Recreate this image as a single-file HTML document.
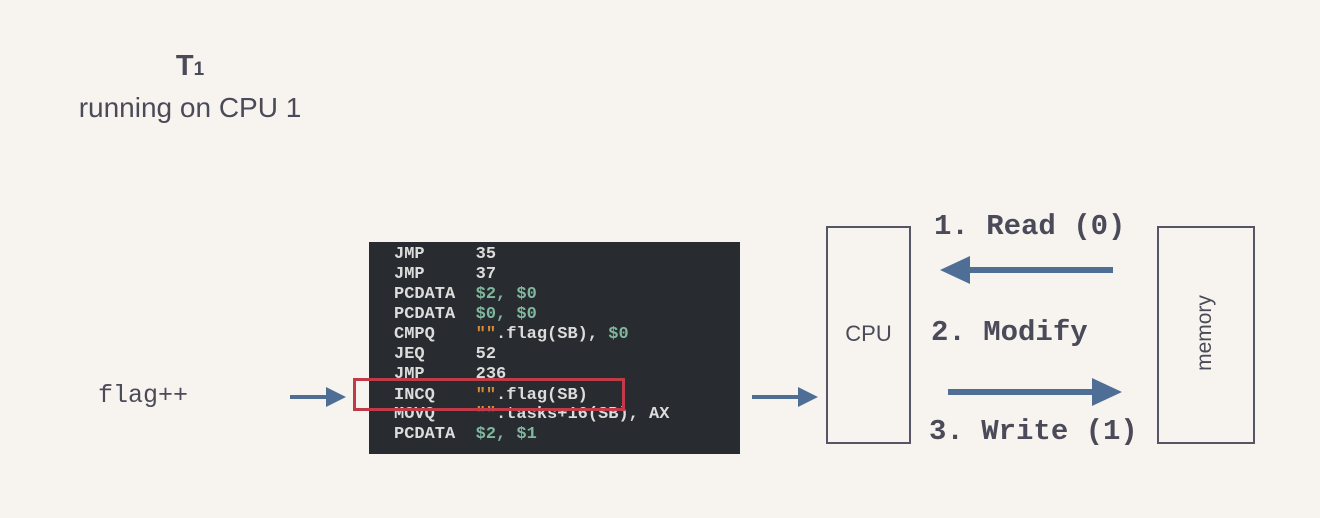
<!DOCTYPE html>
<html><head><style>
body{margin:0;width:1320px;height:518px;background:#f7f4f0;position:relative;overflow:hidden;font-family:"Liberation Sans",sans-serif;color:#4a4a58}
.a{position:absolute}
.code{left:369px;top:242px;width:371px;height:212px;background:#282b2f;overflow:hidden}
.code div{position:absolute;left:25px;font:bold 17px/20px "Liberation Mono",monospace;color:#dcdcdc;white-space:pre}
.g{color:#7fb89e}.o{color:#d98a3a}
.lbl{font:bold 29px "Liberation Mono",monospace;color:#4a4a58;white-space:pre}
</style></head><body>
<div class="a" style="left:60px;top:50px;width:260px;text-align:center;font-size:29px;font-weight:bold">T<span style="font-size:19px">1</span></div>
<div class="a" style="left:40px;top:92px;width:300px;text-align:center;font-size:28px">running on CPU 1</div>
<div class="a" style="left:98px;top:381px;font:25px 'Liberation Mono',monospace">flag++</div>
<div class="a code">
<div style="top:3px">JMP     35</div>
<div style="top:23px">JMP     37</div>
<div style="top:43px">PCDATA  <span class="g">$2, $0</span></div>
<div style="top:63px">PCDATA  <span class="g">$0, $0</span></div>
<div style="top:83px">CMPQ    <span class="o">""</span>.flag(SB), <span class="g">$0</span></div>
<div style="top:103px">JEQ     52</div>
<div style="top:123px">JMP     236</div>
<div style="top:144px">INCQ    <span class="o">""</span>.flag(SB)</div>
<div style="top:163px">MOVQ    <span class="o">""</span>.tasks+16(SB), AX</div>
<div style="top:183px">PCDATA  <span class="g">$2, $1</span></div>
</div>
<div class="a" style="left:353px;top:378px;width:266px;height:27px;border:3px solid #c03a48"></div>
<div class="a" style="left:826px;top:226px;width:81px;height:214px;border:2px solid #555566"></div>
<div class="a" style="left:826px;top:321px;width:85px;text-align:center;font-size:22px">CPU</div>
<div class="a" style="left:1155px;top:321px;width:100px;text-align:center;font-size:21px;transform:rotate(-90deg)">memory</div>
<div class="a" style="left:1157px;top:226px;width:94px;height:214px;border:2px solid #555566"></div>
<div class="a lbl" style="left:934px;top:210px">1. Read (0)</div>
<div class="a lbl" style="left:931px;top:316px">2. Modify</div>
<div class="a lbl" style="left:929px;top:415px">3. Write (1)</div>
<svg class="a" style="left:0;top:0" width="1320" height="518">
<g fill="#4f6e96" stroke="#4f6e96">
<line x1="290" y1="397" x2="330" y2="397" stroke-width="4"/><polygon points="326,387 346,397 326,407" stroke="none"/>
<line x1="752" y1="397" x2="802" y2="397" stroke-width="4"/><polygon points="798,387 818,397 798,407" stroke="none"/>
<line x1="1113" y1="270" x2="965" y2="270" stroke-width="6"/><polygon points="970,256 940,270 970,284" stroke="none"/>
<line x1="948" y1="392" x2="1095" y2="392" stroke-width="6"/><polygon points="1092,378 1122,392 1092,406" stroke="none"/>
</g></svg>
</body></html>
